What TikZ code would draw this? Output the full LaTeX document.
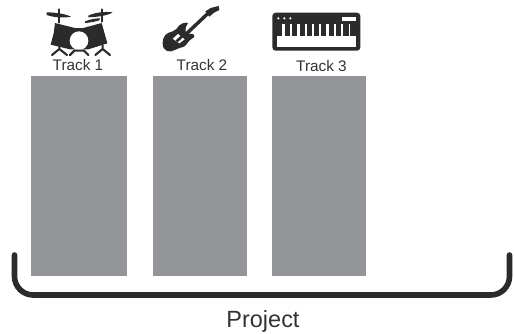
\documentclass[tikz,border=0pt]{standalone}
\usepackage{fontspec}
\setmainfont{Liberation Sans}
\definecolor{trackgray}{HTML}{939598}
\definecolor{ink}{HTML}{2B2B2B}
\definecolor{txt}{HTML}{333333}
\tikzset{
  trackbox/.style={fill=trackgray,draw=none},
  tracklabel/.style={text=txt,font=\fontsize{11.5pt}{14pt}\selectfont,anchor=base,inner sep=0pt},
  iconfill/.style={fill=ink,draw=none},
  iconline/.style={draw=ink,line cap=round},
  bracketline/.style={draw=ink,line width=4.2pt,line cap=round,rounded corners=14pt}
}
\begin{document}
\begin{tikzpicture}[x=0.75pt,y=-0.75pt]
\useasboundingbox (0,0) rectangle (514,333);
% track boxes
\fill[trackbox] (31,75.5) rectangle (127,275.7);
\fill[trackbox] (153,75.5) rectangle (247,275.7);
\fill[trackbox] (272,75.5) rectangle (366,275.7);
% labels
\node[tracklabel] (t1) at (78,70.5) {Track 1};
\node[tracklabel] (t2) at (202,70.5) {Track 2};
\node[tracklabel] (t3) at (321.5,71) {Track 3};
\node[text=txt,font=\fontsize{17.6pt}{20pt}\selectfont,anchor=base,inner sep=0pt] (proj) at (263,327) {Project};
% bracket
\draw[bracketline] (14.5,255) -- (14.5,295) -- (509.5,295) -- (509.5,255);
% drums
\begin{scope}[shift={(20,0)},x=0.25pt,y=-0.25pt]
  \fill[iconfill] (80,37) .. controls (105,37) and (138,42) .. (153,50) .. controls (130,55) and (100,52) .. (80,45) -- cycle;
  \fill[iconfill] (205,47) .. controls (225,37) and (255,34) .. (278,37) .. controls (265,46) and (235,51) .. (205,52) -- cycle;
  \fill[iconfill] (195,64) .. controls (210,58) and (225,55) .. (240,55) -- (238,61) .. controls (225,65) and (210,68) .. (195,69) -- cycle;
  \draw[iconline,line width=1.6pt] (117,28) -- (117,68);
  \draw[iconline,line width=1.6pt] (245,28) -- (245,65);
  \fill[iconfill] (105,69) -- (165,84) -- (190,84) -- (245,69) -- (262,130) -- (205,148) -- (150,148) -- (92,134) -- (101,100) -- cycle;
  \fill[white] (177,122) circle (28);
  \draw[iconline,line width=1.6pt] (118,133) -- (118,147) -- (96,165) (118,147) -- (141,165);
  \draw[iconline,line width=1.6pt] (248,135) -- (248,147) -- (226,165) (248,147) -- (270,165);
  \draw[iconline,line width=1.6pt] (150,165) -- (163,152) -- (192,152) -- (205,165);
\end{scope}
% guitar
\begin{scope}[shift={(150,0)},x=0.25pt,y=-0.25pt]
  \draw[iconline,line width=2.6pt] (100,110) -- (172,42);
  \fill[iconfill] (166,34) -- (182,24) -- (206,18) -- (208,30) -- (192,38) -- (178,50) -- cycle;
  \fill[iconfill] (38,128) .. controls (38,108) and (50,98) .. (66,95) .. controls (76,93) and (82,84) .. (88,76) .. controls (98,68) and (110,66) .. (114,70) .. controls (106,80) and (104,92) .. (110,100) -- (128,102) .. controls (136,106) and (134,112) .. (126,116) .. controls (114,122) and (112,134) .. (102,140) .. controls (92,144) and (84,144) .. (74,150) .. controls (60,160) and (36,154) .. (38,128) -- cycle;
  \fill[white] (68,116) -- (84,102) -- (104,118) -- (88,130) -- cycle;
  \draw[ink,line width=2pt] (80,124) -- (97,108);
\end{scope}
% keyboard
\begin{scope}[shift={(265,0)},x=0.25pt,y=-0.25pt]
  \fill[iconfill,rounded corners=2.5pt] (22,38) rectangle (286,152);
  \fill[white] (35,72) rectangle (273,141);
  \foreach \k in {44,67,88,113,134,155,176,199,220,243,264}{
    \fill[ink] (\k-8,72) rectangle (\k+8,108);
  }
  \foreach \k in {40,58,76}{ \fill[white] (\k,55) circle (3.6); }
  \fill[white] (230,50) rectangle (272,63);
\end{scope}
\end{tikzpicture}
\end{document}
